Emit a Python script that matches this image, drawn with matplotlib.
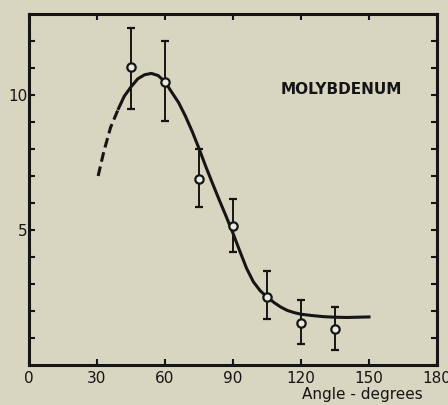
import numpy as np
import matplotlib
matplotlib.use('Agg')
import matplotlib.pyplot as plt

# measured points (angle in degrees, cross section) with error bar limits
angle = [45, 60, 75, 90, 105, 120, 135]
value = [11.05, 10.5, 6.9, 5.15, 2.53, 1.56, 1.33]
err_hi = [12.5, 12.0, 8.0, 6.15, 3.48, 2.4, 2.15]
err_lo = [9.5, 9.05, 5.85, 4.2, 1.7, 0.78, 0.56]

# fitted curve: dashed extrapolation, then solid part
dash_x = [30.5, 33, 36, 39.5]
dash_y = [7.0, 7.9, 8.8, 9.5]
fit_x = [39.5, 42, 45, 48, 51, 54, 57, 60, 63, 66, 69, 72, 75, 78, 81, 84,
         87, 90, 93, 96, 99, 102, 105, 108, 111, 114, 117, 120, 125, 130,
         135, 140, 145, 150]
fit_y = [9.5, 9.95, 10.3, 10.6, 10.75, 10.8, 10.72, 10.49, 10.1, 9.72, 9.22,
         8.65, 8.02, 7.35, 6.72, 6.1, 5.5, 4.88, 4.22, 3.58, 3.08, 2.75, 2.52,
         2.32, 2.15, 2.02, 1.94, 1.88, 1.83, 1.79, 1.77, 1.76, 1.77, 1.78]

x_ticks = [0, 30, 60, 90, 120, 150, 180]
y_labels = {5: '5', 10: '10'}

bg = '#d8d5c0'
ink = '#151515'

plt.rcParams['font.family'] = ['DejaVu Sans']

fig = plt.figure(figsize=(4.48, 4.05), dpi=100, facecolor=bg)
ax = fig.add_axes([0.0647, 0.0988, 0.9107, 0.8666])
ax.set_facecolor(bg)

ax.plot(dash_x, dash_y, color=ink, lw=2.2, ls=(0, (3.2, 1.6)), solid_capstyle='butt')
ax.plot(fit_x, fit_y, color=ink, lw=2.2)

v = np.array(value)
yerr = [v - np.array(err_lo), np.array(err_hi) - v]
ax.errorbar(angle, value, yerr=yerr, fmt='o', ms=6, mfc='#ecebe0', mec=ink,
            mew=1.6, ecolor=ink, elinewidth=1.4, capsize=2.8, capthick=1.6,
            zorder=5)

ax.set_xlim(0, 180)
ax.set_ylim(0, 13)

ax.set_xticks(x_ticks)
ax.set_xticklabels([str(t) for t in x_ticks], fontsize=11, color=ink)
yt = list(range(1, 13))
ax.set_yticks(yt)
ax.set_yticklabels([y_labels.get(t, '') for t in yt], fontsize=11, color=ink)

ax.tick_params(direction='in', length=4, width=1.5, color=ink,
               top=True, right=True, pad=2)
ax.tick_params(axis='x', pad=4)
ax.tick_params(axis='y', pad=1)

for s in ax.spines.values():
    s.set_linewidth(2.2)
    s.set_color(ink)

ax.text(138, 10.2, 'MOLYBDENUM', fontsize=11, fontweight='bold', color=ink,
        ha='center', va='center')

fig.text(0.675, 0.044, 'Angle - degrees', fontsize=11, color=ink,
         ha='left', va='top')

plt.savefig('out.png', dpi=100, facecolor=bg)
